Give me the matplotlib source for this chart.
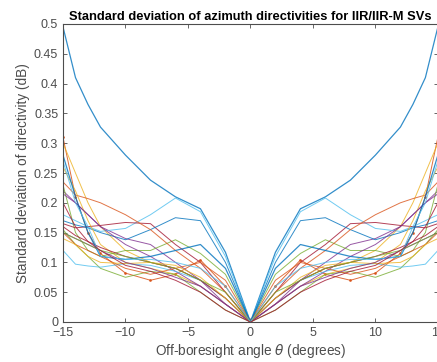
import numpy as np
import matplotlib
matplotlib.use('Agg')
import matplotlib.pyplot as plt

plt.rcParams['font.family'] = ['Liberation Sans', 'DejaVu Sans']

# off-boresight angles for one half, curves are mirrored about 0
theta_half = [0, 2, 4, 6, 8, 10, 12, 13, 14, 15]

# std of directivity (dB) per SV, at theta_half
sv_std = [
    [0, .117, .19, .21, .238, .28, .327, .365, .41, .495],
    [0, .06, .104, .08, .07, .082, .115, .15, .21, .31],
    [0, .04, .07, .09, .10, .12, .16, .20, .25, .30],
    [0, .03, .07, .10, .13, .14, .16, .18, .20, .22],
    [0, .08, .115, .138, .12, .12, .11, .12, .15, .23],
    [0, .11, .185, .208, .18, .157, .152, .16, .17, .18],
    [0, .05, .10, .13, .165, .167, .162, .16, .158, .165],
    [0, .10, .17, .175, .155, .138, .15, .158, .163, .17],
    [0, .05, .09, .12, .155, .18, .20, .207, .213, .235],
    [0, .03, .06, .08, .09, .10, .13, .17, .22, .26],
    [0, .03, .06, .085, .11, .13, .16, .18, .20, .215],
    [0, .02, .05, .08, .085, .075, .09, .11, .13, .155],
    [0, .04, .07, .085, .095, .098, .092, .094, .097, .12],
    [0, .04, .07, .09, .10, .11, .125, .135, .145, .16],
    [0, .09, .13, .12, .11, .105, .11, .15, .21, .28],
    [0, .07, .10, .09, .08, .09, .11, .12, .13, .15],
    [0, .04, .075, .095, .10, .098, .10, .11, .13, .14],
    [0, .03, .06, .075, .09, .10, .12, .13, .14, .15],
    [0, .05, .07, .09, .10, .11, .12, .13, .14, .15],
    [0, .06, .09, .10, .105, .105, .11, .16, .20, .27],
    [0, .02, .05, .07, .085, .095, .12, .135, .16, .20],
]
dotted = [1]  # curves drawn with point markers

matlab_colors = ['#0072BD', '#D95319', '#EDB120', '#7E2F8E',
                 '#77AC30', '#4DBEEE', '#A2142F']

th = np.array(theta_half, dtype=float)
theta = np.concatenate([-th[::-1], th[1:]])

fig = plt.figure(figsize=(4.37, 3.62), dpi=100)
ax = fig.add_axes([63/437, 40/362, 1 - 63/437 + 0.002, 298/362])

for i, vals in enumerate(sv_std):
    v = np.array(vals)
    y = np.concatenate([v[::-1], v[1:]])
    c = matlab_colors[i % 7]
    lw = 0.9 if i in (0, 14) else 0.7
    if i in dotted:
        ax.plot(theta, y, '.-', color=c, lw=lw, ms=2, alpha=0.85)
    else:
        ax.plot(theta, y, '-', color=c, lw=lw, alpha=0.8)

ax.set_xlim(-15, 15)
ax.set_ylim(0, 0.5)
ax.set_xticks([-15, -10, -5, 0, 5, 10, 15])
ax.set_yticks(np.arange(0, 0.501, 0.05))
ax.set_yticklabels(['0', '0.05', '0.1', '0.15', '0.2', '0.25', '0.3',
                    '0.35', '0.4', '0.45', '0.5'])
ax.tick_params(direction='in', top=True, right=True, labelsize=9,
               colors='#4d4d4d', length=3, width=0.6)
for s in ax.spines.values():
    s.set_color('#4d4d4d')
    s.set_linewidth(0.8)

ax.set_title('Standard deviation of azimuth directivities for IIR/IIR-M SVs',
             fontsize=9.3, fontweight='bold', pad=3)
ax.set_xlabel(r'Off-boresight angle $\theta$ (degrees)', fontsize=9.8,
              color='#4d4d4d', labelpad=2)
ax.set_ylabel('Standard deviation of directivity (dB)', fontsize=9.8,
              color='#4d4d4d', labelpad=3)

fig.savefig('out.png', dpi=100)
